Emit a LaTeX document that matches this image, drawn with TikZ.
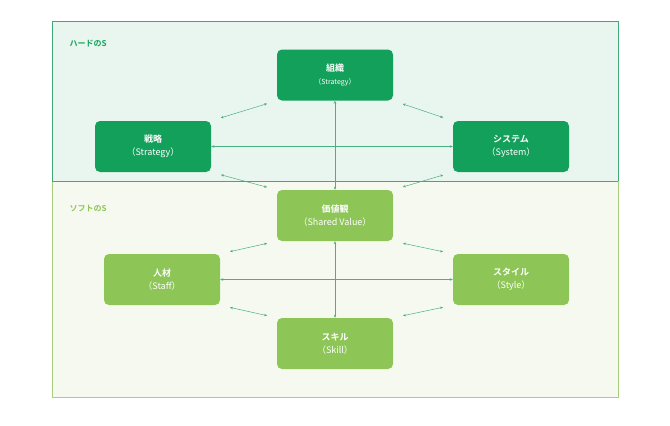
\documentclass[tikz,border=0pt]{standalone}
\usepackage{fontspec}
\setmainfont{Noto Sans CJK JP}
\newfontfamily\jpb{Noto Sans CJK JP Bold}
\usetikzlibrary{arrows.meta}
\definecolor{dg}{HTML}{12A05A}
\definecolor{lg}{HTML}{8DC556}
\definecolor{tpf}{HTML}{E9F6EF}
\definecolor{tpb}{HTML}{3DAA78}
\definecolor{bpf}{HTML}{F6F9F0}
\definecolor{bpb}{HTML}{A8D07C}
\definecolor{ar}{HTML}{4CAF82}
\begin{document}
\begin{tikzpicture}[x=1pt,y=-1pt,
  box/.style={rounded corners=5pt,minimum width=116pt,minimum height=51pt,text=white,align=center,inner sep=0pt,font=\fontsize{9}{12}\selectfont},
  hard/.style={box,fill=dg},soft/.style={box,fill=lg},
  link/.style={ar,line width=0.5pt,{Stealth[length=3pt,width=2.5pt]}-{Stealth[length=3pt,width=2.5pt]}},
  diag/.style={link,shorten <=10pt,shorten >=10pt}]
\useasboundingbox (0,0) rectangle (670,426);
\fill[white] (0,0) rectangle (670,426);
\draw[tpb,fill=tpf,line width=0.8pt] (52,21) rectangle (618,181);
\draw[bpb,fill=bpf,line width=0.8pt] (52,181) rectangle (618,397);
\draw[tpb,line width=0.8pt] (52,181) -- (618,181);
\node[anchor=west,text=dg,font=\jpb\fontsize{8}{10}\selectfont] (th) at (66,44) {ハードのS};
\node[anchor=west,text=lg,font=\jpb\fontsize{8}{10}\selectfont] (sh) at (66,209) {ソフトのS};
\node[hard] (so) at (335,75) {{\jpb 組織}\\[1pt]{\fontsize{7}{9}\selectfont（Strategy）}};
\node[hard] (se) at (153,146.5) {{\jpb 戦略}\\[1pt]（Strategy）};
\node[hard] (sy) at (511,146.5) {{\jpb システム}\\[1pt]（System）};
\node[soft] (va) at (335,215.5) {{\jpb 価値観}\\[1pt]（Shared Value）};
\node[soft] (ji) at (162,279.5) {{\jpb 人材}\\[1pt]（Staff）};
\node[soft] (st) at (511,279.5) {{\jpb スタイル}\\[1pt]（Style）};
\node[soft] (sk) at (335,343.5) {{\jpb スキル}\\[1pt]（Skill）};
\draw[link] (so) -- (va);
\draw[link] (va) -- (sk);
\draw[link] (se) -- (sy);
\draw[link] (ji) -- (st);
\draw[diag] (se.north east) -- (so.south west);
\draw[diag] (so.south east) -- (sy.north west);
\draw[diag] (se.south east) -- (va.north west);
\draw[diag] (sy.south west) -- (va.north east);
\draw[diag] (ji.north east) -- (va.south west);
\draw[diag] (va.south east) -- (st.north west);
\draw[diag] (ji.south east) -- (sk.north west);
\draw[diag] (sk.north east) -- (st.south west);
\end{tikzpicture}
\end{document}
